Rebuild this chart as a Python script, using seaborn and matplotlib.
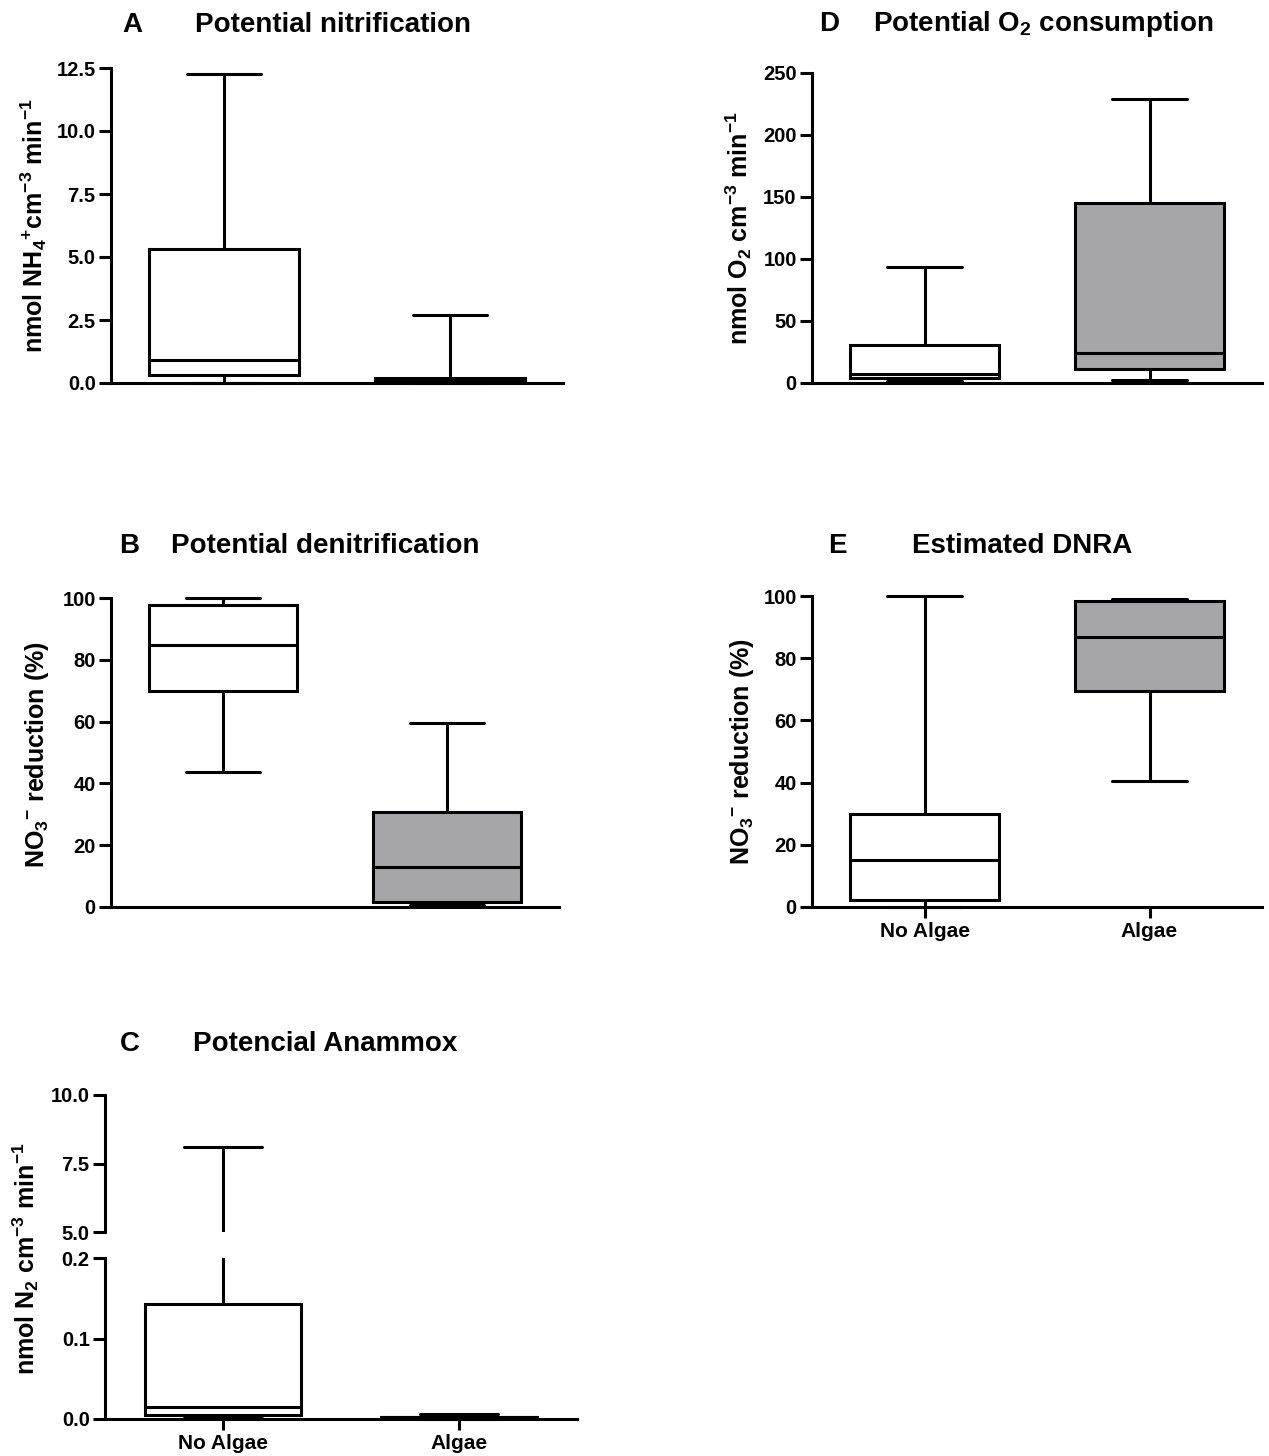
import numpy as np
import pandas as pd
import matplotlib
matplotlib.use("Agg")
import matplotlib.pyplot as plt
from matplotlib.ticker import FormatStrFormatter, FixedLocator
import seaborn as sns

# ---------------- data (five-number summaries: min, Q1, median, Q3, max) -------------
groups = ["No Algae", "Algae"]

nitrif_no_algae = [0.0, 0.33, 0.90, 5.33, 12.26]
nitrif_algae = [0.0, 0.08, 0.12, 0.20, 2.70]

o2_no_algae = [1.5, 4.0, 7.3, 31.0, 93.6]
o2_algae = [2.7, 11.6, 24.3, 145.4, 229.0]

denit_no_algae = [43.6, 69.9, 84.7, 97.6, 100.0]
denit_algae = [0.6, 1.7, 13.1, 30.7, 59.6]

dnra_no_algae = [0.0, 2.4, 15.2, 30.0, 100.0]
dnra_algae = [40.4, 69.3, 86.9, 98.5, 99.1]

anammox_no_algae = [0.001, 0.0045, 0.0144, 0.1427, 8.09]
anammox_algae = [0.0, 0.001, 0.002, 0.003, 0.0066]

yticks_A = [0.0, 2.5, 5.0, 7.5, 10.0, 12.5]
yticks_D = [0, 50, 100, 150, 200, 250]
yticks_B = [0, 20, 40, 60, 80, 100]
yticks_E = [0, 20, 40, 60, 80, 100]
yticks_C_top = [5.0, 7.5, 10.0]
yticks_C_bottom = [0.0, 0.1, 0.2]

colors = ["#FFFFFF", "#A6A5AA"]

# ---------------- style ----------------
sns.set_style("ticks")
plt.rcParams["font.family"] = ["Liberation Sans", "DejaVu Sans"]
plt.rcParams["font.weight"] = "bold"
plt.rcParams["axes.labelweight"] = "bold"
plt.rcParams["text.color"] = "black"
plt.rcParams["axes.labelcolor"] = "black"
plt.rcParams["xtick.color"] = "black"
plt.rcParams["ytick.color"] = "black"
plt.rcParams["xtick.labelcolor"] = "black"
plt.rcParams["ytick.labelcolor"] = "black"
plt.rcParams["mathtext.fontset"] = "custom"
plt.rcParams["mathtext.rm"] = "Liberation Sans:bold"
plt.rcParams["mathtext.it"] = "Liberation Sans:bold"
plt.rcParams["mathtext.bf"] = "Liberation Sans:bold"
plt.rcParams["mathtext.default"] = "rm"

W, H = 1269, 1456
fig = plt.figure(figsize=(W / 100, H / 100), dpi=100)
fig.patch.set_facecolor("white")

LW = 2.2
TICK_FS = 14.5
XTICK_FS = 15
TITLE_FS = 20
LABEL_FS = 18


def px_axes(left, right, top, bottom):
    return fig.add_axes([left / W, 1 - bottom / H, (right - left) / W, (bottom - top) / H])


def make_df(a, b):
    return pd.DataFrame({
        "group": [groups[0]] * len(a) + [groups[1]] * len(b),
        "value": list(a) + list(b),
    })


def draw_box(ax, a, b, clip=True):
    df = make_df(a, b)
    sns.boxplot(data=df, x="group", y="value", hue="group", order=groups,
                hue_order=groups, palette=colors, saturation=1, whis=(0, 100),
                width=0.66, linewidth=LW, linecolor="black", showfliers=False,
                legend=False, ax=ax)
    ax.set_xlim(-0.5, 1.5)
    ax.set_xlabel("")
    ax.set_ylabel("")
    if not clip:
        for art in list(ax.lines) + list(ax.patches):
            art.set_clip_on(False)


def style_axes(ax, yticks, fmt, ylim, xlabels=False, bottom_spine=True):
    sns.despine(ax=ax)
    ax.set_ylim(*ylim)
    ax.yaxis.set_major_locator(FixedLocator(yticks))
    ax.yaxis.set_major_formatter(FormatStrFormatter(fmt))
    ax.tick_params(axis="y", direction="out", length=9, width=LW,
                   labelsize=TICK_FS, pad=2, colors="black")
    for lab in ax.get_yticklabels():
        lab.set_fontweight("bold")
    for s in ["left", "bottom"]:
        ax.spines[s].set_linewidth(LW)
        ax.spines[s].set_color("black")
    if xlabels:
        ax.set_xticks([0, 1])
        ax.set_xticklabels(groups, fontsize=XTICK_FS, fontweight="bold")
        ax.tick_params(axis="x", direction="out", length=8, width=LW, pad=3,
                       colors="black")
    else:
        ax.tick_params(axis="x", length=0, labelbottom=False)
    if not bottom_spine:
        ax.spines["bottom"].set_visible(False)
    ax.set_facecolor("none")


# ---------------- Panel A ----------------
axA = px_axes(111, 563, 68, 383)
draw_box(axA, nitrif_no_algae, nitrif_algae, clip=False)
style_axes(axA, yticks_A, "%.1f", (0, 12.5))

# ---------------- Panel D ----------------
axD = px_axes(812, 1262, 73, 383)
draw_box(axD, o2_no_algae, o2_algae, clip=False)
style_axes(axD, yticks_D, "%d", (0, 250))

# ---------------- Panel B ----------------
axB = px_axes(111, 559, 598, 907)
draw_box(axB, denit_no_algae, denit_algae, clip=False)
style_axes(axB, yticks_B, "%d", (0, 100))

# ---------------- Panel E ----------------
axE = px_axes(812, 1262, 596, 907)
draw_box(axE, dnra_no_algae, dnra_algae, clip=False)
style_axes(axE, yticks_E, "%d", (0, 100), xlabels=True)

# ---------------- Panel C (broken axis) ----------------
axCt = px_axes(105, 577, 1095, 1232)
draw_box(axCt, anammox_no_algae, anammox_algae, clip=True)
style_axes(axCt, yticks_C_top, "%.1f", (5.0, 10.0), bottom_spine=False)

axCb = px_axes(105, 577, 1258, 1419)
draw_box(axCb, anammox_no_algae, anammox_algae, clip=True)
style_axes(axCb, yticks_C_bottom, "%.1f", (0.0, 0.2), xlabels=True)
for art in axCb.lines:
    yd = np.asarray(art.get_ydata(), dtype=float)
    if yd.size and np.nanmax(yd) < 0.2:
        art.set_clip_on(False)
for art in axCb.patches:
    art.set_clip_on(False)

# ---------------- titles ----------------
def title(letter, lx, text, tx, y):
    fig.text(lx / W, 1 - y / H, letter, ha="center", va="baseline",
             fontsize=TITLE_FS, fontweight="bold", color="black")
    fig.text(tx / W, 1 - y / H, text, ha="left", va="baseline",
             fontsize=TITLE_FS, fontweight="bold", color="black")

title("A", 132, "Potential nitrification", 195, 32)
title("D", 829, r"Potential O$_{2}$ consumption", 873, 31)
title("B", 129, "Potential denitrification", 171, 553)
title("E", 837, "Estimated DNRA", 912, 553)
title("C", 130, "Potencial Anammox", 193, 1051)

# ---------------- y labels ----------------
def ylab(x, y, text):
    fig.text(x / W, 1 - y / H, text, rotation=90, ha="center", va="center",
             fontsize=LABEL_FS, fontweight="bold", color="black")

ylab(34, 226, r"nmol NH$_{4}$$^{+}$cm$^{-3}$ min$^{-1}$")
ylab(739, 228, r"nmol O$_{2}$ cm$^{-3}$ min$^{-1}$")
ylab(37, 755, r"NO$_{3}$$^{-}$ reduction (%)")
ylab(742, 752, r"NO$_{3}$$^{-}$ reduction (%)")
ylab(26, 1259, r"nmol N$_{2}$ cm$^{-3}$ min$^{-1}$")

fig.savefig("out.png", dpi=100, facecolor="white")
